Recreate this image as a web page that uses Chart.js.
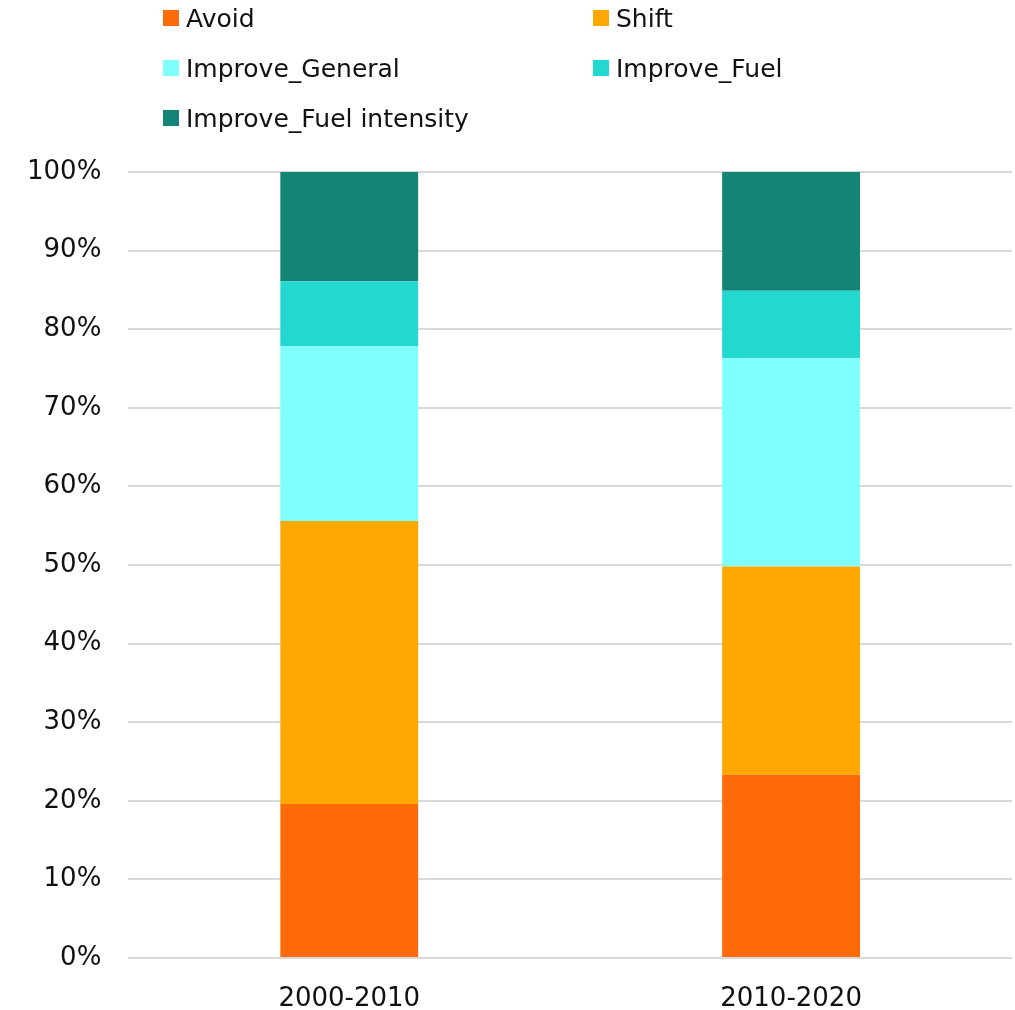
<!DOCTYPE html>
<html>
<head>
<meta charset="utf-8">
<script src="https://cdn.jsdelivr.net/npm/chart.js@4.4.1/dist/chart.umd.min.js"></script>
<style>
  html, body { margin: 0; padding: 0; background: #ffffff; }
  #wrap { position: relative; width: 1015px; height: 1010px; }
  #legend { position: absolute; left: 163px; top: 0px; width: 850px; font-family: "DejaVu Sans", sans-serif; font-size: 25px; color: #111; }
  .item { position: absolute; display: flex; align-items: center; white-space: nowrap; }
  .box { width: 16px; height: 16px; margin-right: 7px; }
</style>
</head>
<body>
<div id="wrap">
  <canvas id="c" width="1015" height="1010"></canvas>
  <div id="legend"></div>
</div>
<script>
const categories = ["2000-2010", "2010-2020"];
const seriesNames = ["Avoid", "Shift", "Improve_General", "Improve_Fuel", "Improve_Fuel intensity"];
const avoid = [19.6, 23.3];
const shift = [36.0, 26.5];
const improveGeneral = [22.2, 26.5];
const improveFuel = [8.3, 8.6];
const improveFuelIntensity = [13.9, 15.1];
const yTicks = [0, 10, 20, 30, 40, 50, 60, 70, 80, 90, 100];
const colors = ["#FF6A0A", "#FFA802", "#80FFFF", "#22D8CF", "#148575"];

const seriesValues = [avoid, shift, improveGeneral, improveFuel, improveFuelIntensity];
const fontFamily = '"DejaVu Sans", sans-serif';

const datasets = seriesNames.map((name, i) => ({
  label: name,
  data: seriesValues[i],
  backgroundColor: colors[i],
  borderWidth: 0,
  barPercentage: 0.312,
  categoryPercentage: 1.0
}));

new Chart(document.getElementById('c'), {
  type: 'bar',
  data: { labels: categories, datasets: datasets },
  options: {
    responsive: false,
    animation: false,
    devicePixelRatio: 1,
    layout: { padding: { top: 172, right: 3, left: 0, bottom: 0 } },
    plugins: { legend: { display: false }, tooltip: { enabled: false } },
    scales: {
      x: {
        stacked: true,
        grid: { display: false },
        border: { display: false },
        afterFit: (axis) => { axis.height = 52; },
        ticks: { color: '#111', font: { family: fontFamily, size: 26 }, padding: 18 }
      },
      y: {
        stacked: true,
        min: 0,
        max: 100,
        afterBuildTicks: (axis) => { axis.ticks = yTicks.map(v => ({ value: v })); },
        grid: { color: '#d9d9d9', lineWidth: 2, drawTicks: false },
        border: { display: false },
        ticks: { color: '#111', font: { family: fontFamily, size: 26 }, padding: 27,
          callback: (v) => v + '%' }
      }
    }
  }
});

const legend = document.getElementById('legend');
const positions = [[0, 18], [430, 18], [0, 68], [430, 68], [0, 118]];
seriesNames.forEach((name, i) => {
  const d = document.createElement('div');
  d.className = 'item';
  d.style.left = positions[i][0] + 'px';
  d.style.top = (positions[i][1] - 16) + 'px';
  d.style.height = '32px';
  const b = document.createElement('span');
  b.className = 'box';
  b.style.background = colors[i];
  const t = document.createElement('span');
  t.textContent = name;
  d.appendChild(b); d.appendChild(t);
  legend.appendChild(d);
});
</script>
</body>
</html>
